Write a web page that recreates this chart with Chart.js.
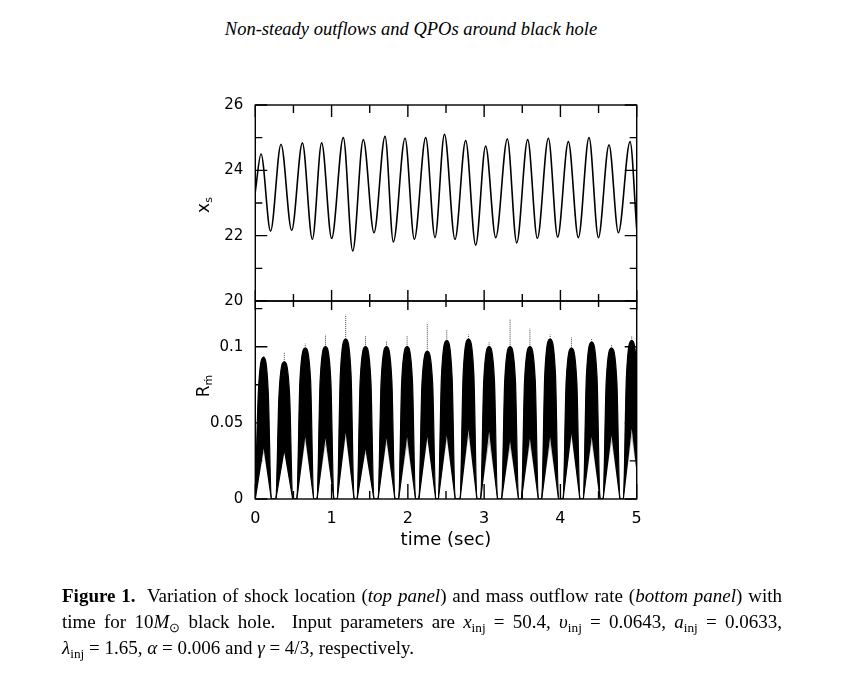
<!DOCTYPE html>
<html>
<head>
<meta charset="utf-8">
<script src="https://cdn.jsdelivr.net/npm/chart.js@4.4.1/dist/chart.umd.min.js"></script>
<style>
  body { margin: 0; background: #fff; width: 847px; height: 686px; position: relative; overflow: hidden;
         font-family: "Liberation Serif", "Times New Roman", serif; color: #000; }
  canvas { position: absolute; left: 0; top: 0; }
  #head { position: absolute; left: 0; width: 822px; top: 19px; text-align: center; font-style: italic;
          font-size: 18.5px; line-height: 20px; }
  .ytitle { position: absolute; font-family: "DejaVu Sans", sans-serif; font-size: 17px; white-space: nowrap;
            transform: translate(-50%, -50%) rotate(-90deg); }
  .ytitle sub { font-size: 11px; vertical-align: -3px; line-height: 0; }
  #caption { position: absolute; left: 62px; width: 720px; top: 583px; font-size: 19px; }
  #caption div { line-height: 26px; white-space: nowrap; }
  #caption .just { text-align: justify; text-align-last: justify; white-space: normal; }
  #caption sub { font-size: 70%; vertical-align: -0.3em; line-height: 0; }
</style>
</head>
<body>
<div id="head">Non-steady outflows and QPOs around black hole</div>
<canvas id="topChart" width="847" height="686"></canvas>
<canvas id="bottomChart" width="847" height="686"></canvas>
<div class="ytitle" style="left:203px; top:205px;">x<sub>s</sub></div>
<div class="ytitle" style="left:203px; top:386px;">R<sub>ṁ</sub></div>
<div id="caption">
  <div class="just"><b>Figure 1.</b>&nbsp; Variation of shock location (<i>top panel</i>) and mass outflow rate (<i>bottom panel</i>) with</div>
  <div class="just">time for 10<i>M</i><sub>⊙</sub> black hole.&nbsp; Input parameters are <i>x</i><sub>inj</sub> = 50.4, <i>υ</i><sub>inj</sub> = 0.0643, <i>a</i><sub>inj</sub> = 0.0633,</div>
  <div><i>λ</i><sub>inj</sub> = 1.65, <i>α</i> = 0.006 and <i>γ</i> = 4/3, respectively.</div>
</div>
<script>
// shock location x_s : turning points (time in sec)
const xsTime  = [0, 0.075, 0.20, 0.337, 0.477, 0.617, 0.748, 0.870, 1.001, 1.154, 1.277, 1.416, 1.556,
                 1.701, 1.810, 1.963, 2.085, 2.234, 2.356, 2.480, 2.618, 2.758, 2.889, 3.020, 3.152,
                 3.304, 3.427, 3.571, 3.698, 3.842, 3.964, 4.104, 4.235, 4.375, 4.498, 4.637, 4.760, 4.913, 5.0];
const xsValue = [23.35, 24.5, 22.14, 24.8, 22.16, 24.84, 21.89, 24.84, 21.92, 25.0, 21.53, 24.94, 22.09,
                 25.04, 21.81, 24.98, 21.89, 25.0, 21.94, 25.1, 21.89, 24.91, 21.71, 24.74, 21.94,
                 24.96, 21.78, 24.94, 21.92, 24.98, 21.96, 24.88, 21.94, 25.0, 21.94, 24.78, 22.09, 24.88, 22.2];

// mass outflow rate bursts (bottom panel), one entry per burst
const burstStart    = [0.0, 0.27, 0.545, 0.81, 1.075, 1.335, 1.61, 1.88, 2.145, 2.40, 2.685, 2.955, 3.23, 3.49, 3.755, 4.035, 4.30, 4.56, 4.825];
const burstPeak     = [0.11, 0.38, 0.655, 0.92, 1.185, 1.445, 1.72, 1.99, 2.255, 2.51, 2.795, 3.065, 3.34, 3.60, 3.865, 4.145, 4.41, 4.67, 4.935];
const burstEnd      = [0.21, 0.49, 0.765, 1.03, 1.295, 1.555, 1.83, 2.10, 2.365, 2.62, 2.905, 3.175, 3.45, 3.71, 3.975, 4.255, 4.52, 4.78, 5.045];
const burstShoulder = [0.070, 0.068, 0.078, 0.078, 0.082, 0.078, 0.078, 0.078, 0.076, 0.080, 0.082, 0.078, 0.078, 0.078, 0.082, 0.077, 0.080, 0.077, 0.080];
const burstTop      = [0.093, 0.090, 0.099, 0.100, 0.105, 0.100, 0.100, 0.100, 0.097, 0.104, 0.105, 0.100, 0.100, 0.100, 0.105, 0.099, 0.103, 0.099, 0.104];
const burstLow      = [0.036, 0.033, 0.044, 0.043, 0.047, 0.035, 0.043, 0.044, 0.044, 0.045, 0.049, 0.048, 0.041, 0.043, 0.044, 0.046, 0.044, 0.045, 0.050];
const burstFringe   = [0.030, 0.030, 0.037, 0.035, 0.040, 0.030, 0.036, 0.035, 0.038, 0.038, 0.040, 0.037, 0.033, 0.035, 0.035, 0.040, 0.036, 0.037, 0.040];
const burstSpike    = [0.094, 0.096, 0.102, 0.108, 0.121, 0.107, 0.104, 0.107, 0.115, 0.111, 0.108, 0.103, 0.118, 0.112, 0.108, 0.106, 0.105, 0.101, 0.107];
const EDGE = 0.04; // time for a burst edge to climb to its shoulder

// ticks
const timeMajor = [0, 1, 2, 3, 4, 5];
const timeMinor = [0.5, 1.5, 2.5, 3.5, 4.5];
const xsMajor = [20, 22, 24, 26];
const xsMinor = [21, 23, 25];
const rmMajor = [0, 0.05, 0.1];
const rmMinor = [0.025, 0.075, 0.125];

const tickFont = { family: 'DejaVu Sans', size: 15 };

// box round the panel with inward ticks on all four sides
const framePlugin = {
  id: 'frame',
  afterDatasetsDraw(chart, args, o) {
    const { ctx, chartArea: a } = chart;
    const x = chart.scales.x, y = chart.scales.y;
    ctx.save();
    ctx.strokeStyle = '#000';
    ctx.lineWidth = 1.4;
    ctx.strokeRect(a.left, a.top, a.width, a.height);
    ctx.beginPath();
    const tx = (vals, up, down) => vals.forEach(v => {
      const p = x.getPixelForValue(v);
      ctx.moveTo(p, a.top); ctx.lineTo(p, a.top + up);
      ctx.moveTo(p, a.bottom); ctx.lineTo(p, a.bottom - down);
    });
    const ty = (vals, len) => vals.forEach(v => {
      const p = y.getPixelForValue(v);
      ctx.moveTo(a.left, p); ctx.lineTo(a.left + len, p);
      ctx.moveTo(a.right, p); ctx.lineTo(a.right - len, p);
    });
    tx(timeMajor, o.xTop[0], o.xBot[0]);
    tx(timeMinor, o.xTop[1], o.xBot[1]);
    ty(o.yMajor, 12);
    ty(o.yMinor, 7);
    ctx.stroke();
    ctx.restore();
  }
};

function yScale(min, max, major) {
  return {
    min: min, max: max,
    afterBuildTicks: s => { s.ticks = major.map(v => ({ value: v })); },
    afterFit: s => { s.width = 80; },
    grid: { display: false, drawTicks: false },
    border: { display: false },
    ticks: { padding: 12, color: '#000', font: tickFont, callback: v => String(v) }
  };
}

// top panel
new Chart(document.getElementById('topChart'), {
  type: 'line',
  data: {
    datasets: [{
      data: xsTime.map((t, i) => ({ x: t, y: xsValue[i] })),
      borderColor: '#000',
      borderWidth: 1.6,
      pointRadius: 0,
      cubicInterpolationMode: 'monotone'
    }]
  },
  options: {
    responsive: false,
    animation: false,
    events: [],
    layout: { padding: { left: 175.3, right: 210.3, top: 105, bottom: 385 } },
    plugins: {
      legend: { display: false },
      tooltip: { enabled: false },
      frame: { xTop: [12, 8], xBot: [11, 7], yMajor: xsMajor, yMinor: xsMinor }
    },
    scales: {
      x: { type: 'linear', min: 0, max: 5, display: false },
      y: yScale(20, 26, xsMajor)
    }
  },
  plugins: [framePlugin]
});

// bottom panel: black band between upper and lower envelope of each burst
const upperPts = [], lowerPts = [], fringePts = [], spikePts = [];
burstPeak.forEach((c, i) => {
  upperPts.push({ x: burstStart[i], y: 0 }, { x: burstStart[i] + EDGE, y: burstShoulder[i] },
                { x: c, y: burstTop[i] },
                { x: burstEnd[i] - EDGE, y: burstShoulder[i] }, { x: burstEnd[i], y: 0 });
  lowerPts.push({ x: burstStart[i], y: 0 }, { x: c, y: burstLow[i] }, { x: burstEnd[i], y: 0 });
  fringePts.push({ x: burstStart[i], y: 0 }, { x: c, y: burstFringe[i] }, { x: burstEnd[i], y: 0 });
  spikePts.push({ x: c, y: burstTop[i] }, { x: c, y: burstSpike[i] }, { x: c, y: null });
});

new Chart(document.getElementById('bottomChart'), {
  type: 'line',
  data: {
    datasets: [
      { data: upperPts, borderColor: '#000', borderWidth: 1.2, pointRadius: 0,
        cubicInterpolationMode: 'monotone', fill: '+1', backgroundColor: '#000' },
      { data: lowerPts, borderColor: '#000', borderWidth: 1.2, pointRadius: 0, tension: 0,
        fill: '+1', backgroundColor: 'rgba(0,0,0,0.25)' },
      { data: fringePts, borderColor: 'rgba(0,0,0,0)', borderWidth: 0, pointRadius: 0, tension: 0, fill: false },
      { data: spikePts, borderColor: '#444', borderWidth: 1, borderDash: [1, 1], pointRadius: 0, tension: 0,
        spanGaps: false, fill: false }
    ]
  },
  options: {
    responsive: false,
    animation: false,
    events: [],
    layout: { padding: { left: 175.3, right: 210.3, top: 301, bottom: 135 } },
    plugins: {
      legend: { display: false },
      tooltip: { enabled: false },
      frame: { xTop: [9, 6], xBot: [15, 8], yMajor: rmMajor, yMinor: rmMinor }
    },
    scales: {
      x: {
        type: 'linear', min: 0, max: 5, offset: false,
        afterBuildTicks: s => { s.ticks = timeMajor.map(v => ({ value: v })); },
        afterFit: s => { s.height = 52; },
        grid: { display: false, drawTicks: false },
        border: { display: false },
        ticks: { padding: 10, color: '#000', font: { family: 'DejaVu Sans', size: 16 } },
        title: { display: true, text: 'time (sec)', color: '#000', padding: 0,
                 font: { family: 'DejaVu Sans', size: 18 } }
      },
      y: yScale(0, 0.13, rmMajor)
    }
  },
  plugins: [framePlugin]
});
</script>
</body>
</html>
